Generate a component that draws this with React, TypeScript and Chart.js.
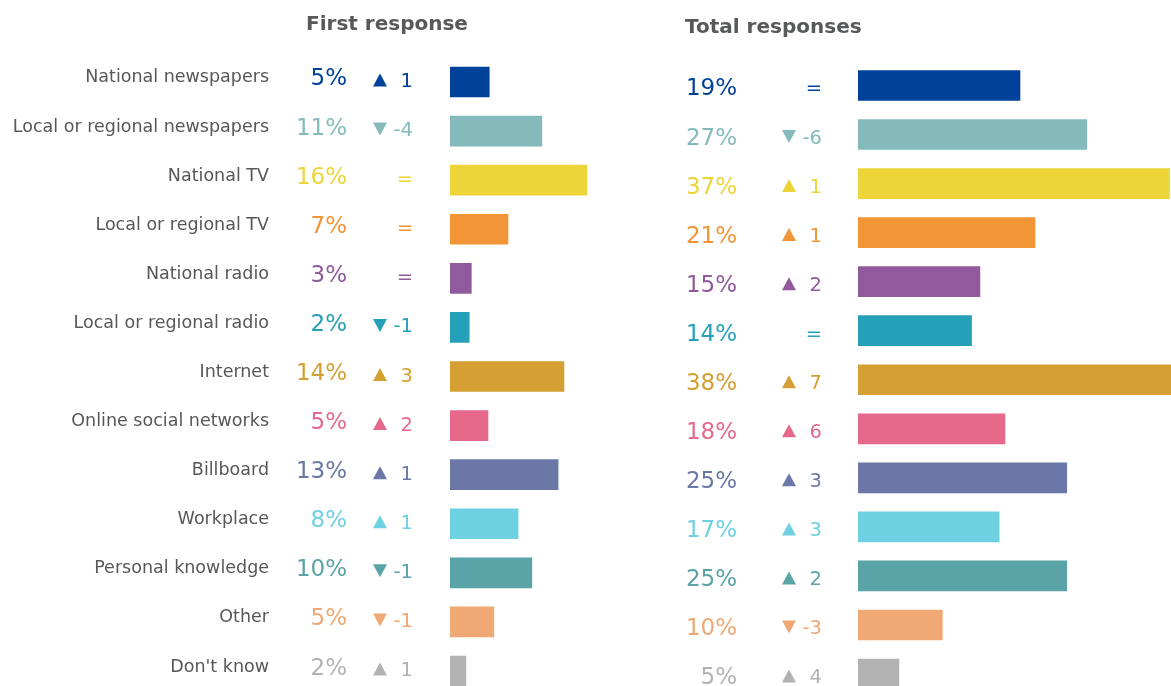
import React, { useEffect, useRef } from "react";
import { Chart, registerables } from "chart.js";

Chart.register(...registerables);

const categories = [
  "National newspapers",
  "Local or regional newspapers",
  "National TV",
  "Local or regional TV",
  "National radio",
  "Local or regional radio",
  "Internet",
  "Online social networks",
  "Billboard",
  "Workplace",
  "Personal knowledge",
  "Other",
  "Don't know",
];

const colors = [
  "#00419A",
  "#84BABB",
  "#EDD438",
  "#F19537",
  "#915A9C",
  "#24A1B8",
  "#D4A033",
  "#E6698B",
  "#6A77A7",
  "#6DD1E1",
  "#5AA3A6",
  "#F0A875",
  "#B2B2B2",
];

// First response share (%) and change vs previous wave (points)
const firstShare = [4.7, 11.0, 16.4, 6.95, 2.55, 2.3, 13.65, 4.55, 12.95, 8.15, 9.8, 5.25, 1.9];
const firstChange = [1, -4, 0, 0, 0, -1, 3, 2, 1, 1, -1, -1, 1];

// Total responses share (%) and change vs previous wave (points)
const totalShare = [19.4, 27.4, 37.3, 21.2, 14.6, 13.6, 38.2, 17.6, 25.0, 16.9, 25.0, 10.1, 4.9];
const totalChange = [0, -6, 1, 1, 2, 0, 7, 6, 3, 3, 2, -3, 4];

const titles = ["First response", "Total responses"];

const FONT = '"DejaVu Sans", Verdana, sans-serif';
const LABEL_COLOR = "#575757";
const TITLE_COLOR = "#58595B";

type PanelLayout = {
  title: string;
  titleX: number;
  titleY: number;
  showLabels: boolean;
  labelRight: number;
  labelDy: number;
  pctRight: number;
  pctDy: number;
  chgRight: number;
  triX: number;
  chgDy: number;
};

function textPlugin(share: number[], change: number[], L: PanelLayout) {
  return {
    id: "rowText",
    afterDatasetsDraw(chart: any) {
      const ctx: CanvasRenderingContext2D = chart.ctx;
      const yScale = chart.scales.y;
      ctx.save();
      ctx.textBaseline = "alphabetic";
      ctx.font = `bold 20px ${FONT}`;
      ctx.fillStyle = TITLE_COLOR;
      ctx.textAlign = "left";
      ctx.fillText(L.title, L.titleX, L.titleY);

      share.forEach((v, i) => {
        const c = yScale.getPixelForValue(i);
        const col = colors[i];
        if (L.showLabels) {
          ctx.font = `17.5px ${FONT}`;
          ctx.fillStyle = LABEL_COLOR;
          ctx.textAlign = "right";
          ctx.fillText(categories[i], L.labelRight, c + L.labelDy);
        }
        ctx.font = `23px ${FONT}`;
        ctx.fillStyle = col;
        ctx.textAlign = "right";
        ctx.fillText(`${Math.round(v)}%`, L.pctRight, c + L.pctDy);

        const d = change[i];
        ctx.font = `19.5px ${FONT}`;
        ctx.textAlign = "right";
        const cy = c + L.chgDy;
        if (d === 0) {
          ctx.fillText("=", L.chgRight, cy + 7);
        } else {
          ctx.fillText(`${d}`, L.chgRight, cy + 7);
          ctx.beginPath();
          if (d > 0) {
            ctx.moveTo(L.triX, cy - 6.5);
            ctx.lineTo(L.triX + 7, cy + 6.5);
            ctx.lineTo(L.triX - 7, cy + 6.5);
          } else {
            ctx.moveTo(L.triX - 7, cy - 6.5);
            ctx.lineTo(L.triX + 7, cy - 6.5);
            ctx.lineTo(L.triX, cy + 6.5);
          }
          ctx.closePath();
          ctx.fill();
        }
      });
      ctx.restore();
    },
  };
}

function makeChart(
  canvas: HTMLCanvasElement,
  share: number[],
  change: number[],
  xMax: number,
  padding: { left: number; right: number; top: number; bottom: number },
  L: PanelLayout
) {
  return new Chart(canvas, {
    type: "bar",
    data: {
      labels: categories,
      datasets: [
        {
          data: share,
          backgroundColor: colors,
          borderWidth: 0,
          barThickness: 30,
        },
      ],
    },
    options: {
      indexAxis: "y",
      responsive: false,
      animation: false,
      devicePixelRatio: 1,
      layout: { padding },
      plugins: {
        legend: { display: false },
        tooltip: { enabled: false },
        title: { display: false },
      },
      scales: {
        x: { display: false, min: 0, max: xMax },
        y: { display: false, offset: true },
      },
    },
    plugins: [textPlugin(share, change, L)],
  } as any);
}

export default function App() {
  const leftRef = useRef<HTMLCanvasElement>(null);
  const rightRef = useRef<HTMLCanvasElement>(null);

  useEffect(() => {
    const PX_PER_PCT = 8.35;
    const leftW = 17 * PX_PER_PCT;
    const left = makeChart(
      leftRef.current!,
      firstShare,
      firstChange,
      17,
      { left: 450, right: 600 - 450 - leftW, top: 57.45, bottom: 4.45 },
      {
        title: titles[0],
        titleX: 306,
        titleY: 29.5,
        showLabels: true,
        labelRight: 269,
        labelDy: 0.5,
        pctRight: 347,
        pctDy: 3.5,
        chgRight: 413,
        triX: 380,
        chgDy: -2,
      }
    );
    const right = makeChart(
      rightRef.current!,
      totalShare,
      totalChange,
      313 / PX_PER_PCT,
      { left: 258, right: 0, top: 60.95, bottom: 1.45 },
      {
        title: titles[1],
        titleX: 85,
        titleY: 33,
        showLabels: false,
        labelRight: 0,
        labelDy: 0,
        pctRight: 137,
        pctDy: 10,
        chgRight: 222,
        triX: 189,
        chgDy: 2,
      }
    );
    return () => {
      left.destroy();
      right.destroy();
    };
  }, []);

  return (
    <div
      style={{
        position: "fixed",
        left: 0,
        top: 0,
        width: 1171,
        height: 686,
        overflow: "hidden",
        background: "#fff",
      }}
    >
      <canvas
        ref={leftRef}
        width={600}
        height={700}
        style={{ position: "absolute", left: 0, top: 0, width: 600, height: 700 }}
      />
      <canvas
        ref={rightRef}
        width={571}
        height={700}
        style={{ position: "absolute", left: 600, top: 0, width: 571, height: 700 }}
      />
    </div>
  );
}
